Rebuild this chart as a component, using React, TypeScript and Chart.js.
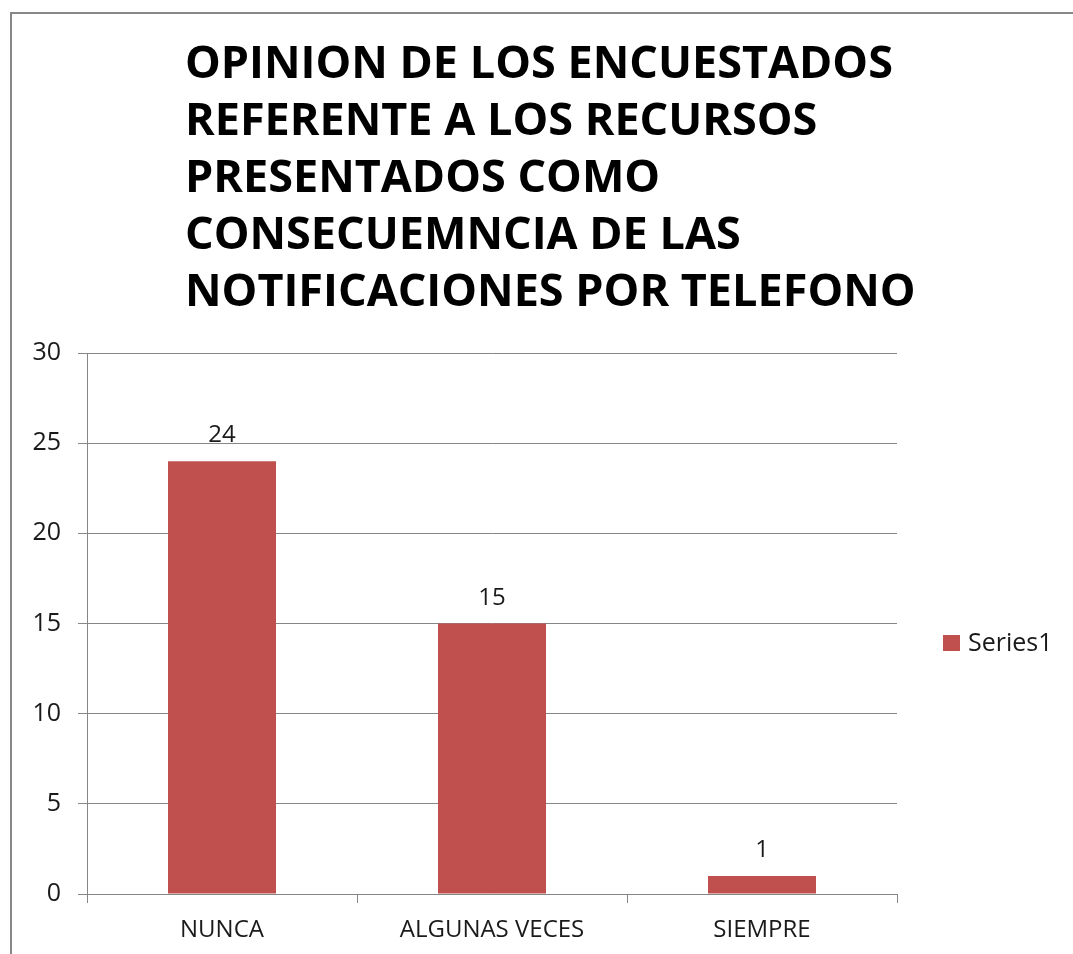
import React, { useEffect, useRef } from "react";
import { Chart, registerables } from "chart.js";

Chart.register(...registerables);

const TITLE_LINES = [
  "OPINION DE LOS ENCUESTADOS",
  "REFERENTE A LOS RECURSOS",
  "PRESENTADOS COMO",
  "CONSECUEMNCIA DE LAS",
  "NOTIFICACIONES POR TELEFONO",
];
const CATEGORIES = ["NUNCA", "ALGUNAS VECES", "SIEMPRE"];
const SERIES_NAME = "Series1";
const VALUES = [24, 15, 1];
const Y_MIN = 0;
const Y_MAX = 30;
const Y_STEP = 5;

const BAR_COLOR = "#C0504D";
const GRID_COLOR = "#868686";
const TEXT_COLOR = "#1a1a1a";
const FONT = "Open Sans";

const decorPlugin = {
  id: "decor",
  afterDraw(chart: any) {
    const ctx = chart.ctx as CanvasRenderingContext2D;
    ctx.save();
    // outer border (top + left)
    ctx.strokeStyle = "#878787";
    ctx.lineWidth = 2;
    ctx.beginPath();
    ctx.moveTo(11, chart.height);
    ctx.lineTo(11, 13);
    ctx.lineTo(chart.width, 13);
    ctx.stroke();

    // title
    ctx.fillStyle = "#000";
    ctx.font = `bold 45px "Open Sans"`;
    ctx.textAlign = "left";
    ctx.textBaseline = "alphabetic";
    TITLE_LINES.forEach((line, i) => {
      ctx.fillText(line, 185, 78 + i * 57);
    });

    // data labels
    const meta = chart.getDatasetMeta(0);
    ctx.fillStyle = TEXT_COLOR;
    ctx.font = `24px "${FONT}"`;
    ctx.textAlign = "center";
    meta.data.forEach((bar: any, i: number) => {
      ctx.fillText(String(chart.data.datasets[0].data[i]), bar.x, bar.y - 19);
    });

    // legend
    ctx.fillStyle = BAR_COLOR;
    ctx.fillRect(943, 635, 17, 16);
    ctx.fillStyle = TEXT_COLOR;
    ctx.textAlign = "left";
    ctx.font = `25px "${FONT}"`;
    ctx.fillText(chart.data.datasets[0].label, 968, 651);
    ctx.restore();
  },
};

export default function App() {
  const ref = useRef<HTMLCanvasElement>(null);
  useEffect(() => {
    const chart = new Chart(ref.current!, {
      type: "bar",
      data: {
        labels: CATEGORIES,
        datasets: [
          {
            label: SERIES_NAME,
            data: VALUES,
            backgroundColor: BAR_COLOR,
            barPercentage: 0.4,
            categoryPercentage: 1.0,
          },
        ],
      },
      options: {
        animation: false,
        responsive: false,
        devicePixelRatio: 1,
        layout: { padding: { top: 353, right: 176, left: 0, bottom: 0 } },
        plugins: {
          legend: { display: false },
          title: { display: false },
          tooltip: { enabled: false },
        },
        scales: {
          x: {
            afterFit: (s: any) => {
              s.height = 60;
            },
            grid: {
              offset: true,
              drawOnChartArea: false,
              drawTicks: true,
              tickLength: 9,
              color: GRID_COLOR,
            },
            border: { display: true, color: GRID_COLOR },
            ticks: {
              color: TEXT_COLOR,
              font: { family: FONT, size: 24 },
              padding: 13,
            },
          },
          y: {
            min: Y_MIN,
            max: Y_MAX,
            afterFit: (s: any) => {
              s.width = 87;
            },
            grid: {
              color: GRID_COLOR,
              drawTicks: true,
              tickLength: 9,
            },
            border: { display: true, color: GRID_COLOR },
            ticks: {
              stepSize: Y_STEP,
              color: TEXT_COLOR,
              font: { family: FONT, size: 25 },
              padding: 17,
            },
          },
        },
      },
      plugins: [decorPlugin],
    });
    return () => chart.destroy();
  }, []);
  return (
    <canvas
      ref={ref}
      width={1073}
      height={954}
      style={{ position: "absolute", left: 0, top: 0, display: "block" }}
    />
  );
}
